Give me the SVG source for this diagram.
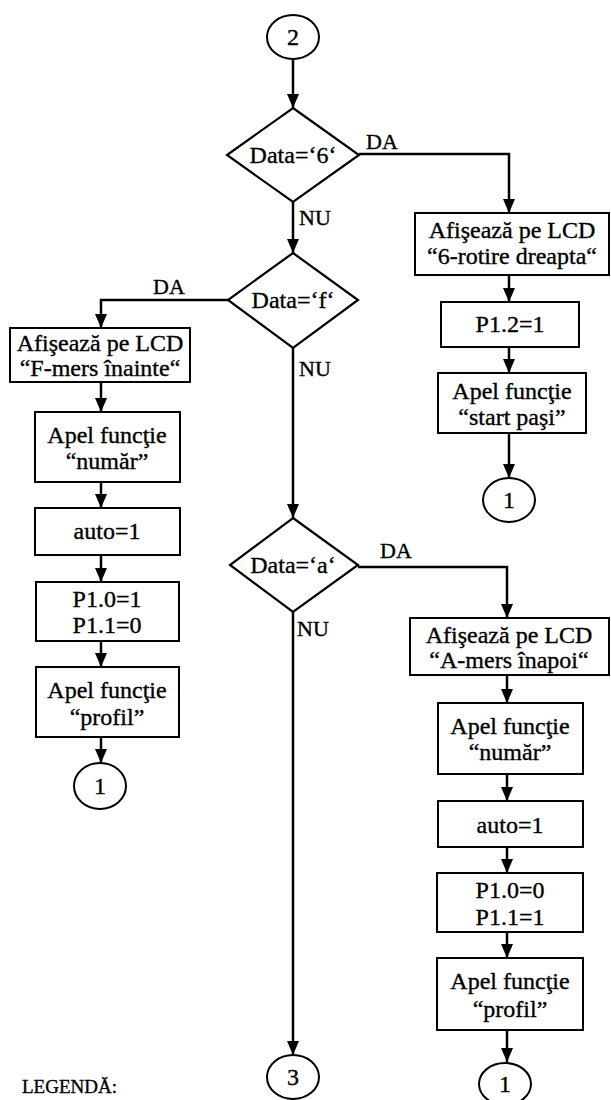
<svg xmlns="http://www.w3.org/2000/svg" width="611" height="1100" viewBox="0 0 611 1100">
  <style>
    .box { fill: #fff; stroke: #000; stroke-width: 2; }
    .dec { fill: #fff; stroke: #000; stroke-width: 2.2; }
    .con { fill: #fff; stroke: #000; stroke-width: 2; }
    .wire { fill: none; stroke: #000; stroke-width: 2.5; }
    text { font-family: "Liberation Serif", "Times New Roman", serif; font-size: 24px; fill: #000; stroke: #000; stroke-width: 0.35; }
    .c { text-anchor: middle; }
    .lbl { font-size: 22px; }
  </style>
  <defs>
    <marker id="arrow" markerUnits="userSpaceOnUse" markerWidth="14" markerHeight="12" refX="14" refY="6" orient="auto">
      <path d="M0,0 L14,6 L0,12 z" fill="#000"/>
    </marker>
  </defs>

  <!-- connectors -->
  <g id="connectors">
    <line class="wire" x1="293" y1="59" x2="293" y2="108" marker-end="url(#arrow)"/>
    <path class="wire" d="M359 154 H509 V213" marker-end="url(#arrow)"/>
    <line class="wire" x1="509" y1="275" x2="509" y2="302" marker-end="url(#arrow)"/>
    <line class="wire" x1="509" y1="347" x2="509" y2="373" marker-end="url(#arrow)"/>
    <line class="wire" x1="509" y1="433" x2="509" y2="478" marker-end="url(#arrow)"/>
    <line class="wire" x1="293" y1="202" x2="293" y2="253" marker-end="url(#arrow)"/>
    <path class="wire" d="M228 300 H101 V328" marker-end="url(#arrow)"/>
    <line class="wire" x1="101" y1="382" x2="101" y2="412" marker-end="url(#arrow)"/>
    <line class="wire" x1="101" y1="482" x2="101" y2="508" marker-end="url(#arrow)"/>
    <line class="wire" x1="101" y1="555" x2="101" y2="582" marker-end="url(#arrow)"/>
    <line class="wire" x1="101" y1="641" x2="101" y2="667" marker-end="url(#arrow)"/>
    <line class="wire" x1="101" y1="737" x2="101" y2="763" marker-end="url(#arrow)"/>
    <line class="wire" x1="293" y1="348" x2="293" y2="518" marker-end="url(#arrow)"/>
    <path class="wire" d="M358 567 H507 V618" marker-end="url(#arrow)"/>
    <line class="wire" x1="507" y1="675" x2="507" y2="703" marker-end="url(#arrow)"/>
    <line class="wire" x1="507" y1="774" x2="507" y2="801" marker-end="url(#arrow)"/>
    <line class="wire" x1="507" y1="847" x2="507" y2="873" marker-end="url(#arrow)"/>
    <line class="wire" x1="507" y1="932" x2="507" y2="958" marker-end="url(#arrow)"/>
    <line class="wire" x1="507" y1="1030" x2="507" y2="1062" marker-end="url(#arrow)"/>
    <line class="wire" x1="293" y1="612" x2="293" y2="1055" marker-end="url(#arrow)"/>
    <!-- branch labels -->
    <text class="lbl" x="366" y="149">DA</text>
    <text class="lbl" x="299" y="225">NU</text>
    <text class="lbl" x="153" y="294">DA</text>
    <text class="lbl" x="299" y="376">NU</text>
    <text class="lbl" x="380" y="558">DA</text>
    <text class="lbl" x="297" y="636">NU</text>
  </g>

  <g id="conn2">
    <ellipse class="con" cx="293" cy="37" rx="26" ry="22"/>
    <text class="c" x="293" y="45">2</text>
  </g>

  <g id="dec6">
    <polygon class="dec" points="293,108 359,155 293,202 227,155"/>
    <text class="c" x="293" y="163">Data=‘6‘</text>
  </g>

  <g id="lcd6">
    <rect class="box" x="415" y="213" width="194" height="62"/>
    <text class="c" x="512" y="238">Afişează pe LCD</text>
    <text class="c" x="512" y="264">“6-rotire dreapta“</text>
  </g>

  <g id="p12">
    <rect class="box" x="441" y="302" width="138" height="45"/>
    <text class="c" x="510" y="332">P1.2=1</text>
  </g>

  <g id="startpasi">
    <rect class="box" x="438" y="373" width="148" height="60"/>
    <text class="c" x="512" y="399">Apel funcţie</text>
    <text class="c" x="512" y="425">“start  paşi”</text>
  </g>

  <g id="conn1a">
    <ellipse class="con" cx="509" cy="500" rx="26" ry="22"/>
    <text class="c" x="509" y="508">1</text>
  </g>

  <g id="decf">
    <polygon class="dec" points="293,253 358,300 293,348 228,300"/>
    <text class="c" x="293" y="308">Data=‘f‘</text>
  </g>

  <g id="lcdf">
    <rect class="box" x="10" y="328" width="180" height="54"/>
    <text class="c" x="100" y="351">Afişează pe LCD</text>
    <text class="c" x="100" y="376">“F-mers înainte“</text>
  </g>

  <g id="numarL">
    <rect class="box" x="35" y="412" width="145" height="70"/>
    <text class="c" x="107" y="443">Apel funcţie</text>
    <text class="c" x="107" y="469">“număr”</text>
  </g>

  <g id="autoL">
    <rect class="box" x="35" y="508" width="145" height="47"/>
    <text class="c" x="107" y="539">auto=1</text>
  </g>

  <g id="portsL">
    <rect class="box" x="36" y="582" width="143" height="59"/>
    <text class="c" x="107" y="607">P1.0=1</text>
    <text class="c" x="107" y="633">P1.1=0</text>
  </g>

  <g id="profilL">
    <rect class="box" x="36" y="667" width="143" height="70"/>
    <text class="c" x="107" y="698">Apel funcţie</text>
    <text class="c" x="107" y="725">“profil”</text>
  </g>

  <g id="conn1b">
    <ellipse class="con" cx="100" cy="786" rx="26" ry="23"/>
    <text class="c" x="100" y="794">1</text>
  </g>

  <g id="deca">
    <polygon class="dec" points="293,518 358,565 293,612 230,565"/>
    <text class="c" x="293" y="573">Data=‘a‘</text>
  </g>

  <g id="lcda">
    <rect class="box" x="410" y="618" width="199" height="57"/>
    <text class="c" x="509" y="643">Afişează pe LCD</text>
    <text class="c" x="509" y="668">“A-mers înapoi“</text>
  </g>

  <g id="numarR">
    <rect class="box" x="438" y="703" width="145" height="71"/>
    <text class="c" x="510" y="734">Apel funcţie</text>
    <text class="c" x="510" y="760">“număr”</text>
  </g>

  <g id="autoR">
    <rect class="box" x="438" y="801" width="145" height="46"/>
    <text class="c" x="510" y="833">auto=1</text>
  </g>

  <g id="portsR">
    <rect class="box" x="437" y="873" width="146" height="59"/>
    <text class="c" x="510" y="898">P1.0=0</text>
    <text class="c" x="510" y="925">P1.1=1</text>
  </g>

  <g id="profilR">
    <rect class="box" x="437" y="958" width="146" height="72"/>
    <text class="c" x="510" y="989">Apel funcţie</text>
    <text class="c" x="510" y="1017">“profil”</text>
  </g>

  <g id="conn1c">
    <ellipse class="con" cx="505" cy="1084" rx="26" ry="21"/>
    <text class="c" x="505" y="1092">1</text>
  </g>

  <g id="conn3">
    <ellipse class="con" cx="293" cy="1077" rx="26" ry="22"/>
    <text class="c" x="293" y="1085">3</text>
  </g>

  <g id="legend">
    <text x="22" y="1093" style="font-size:19px">LEGENDĂ:</text>
  </g>
</svg>
